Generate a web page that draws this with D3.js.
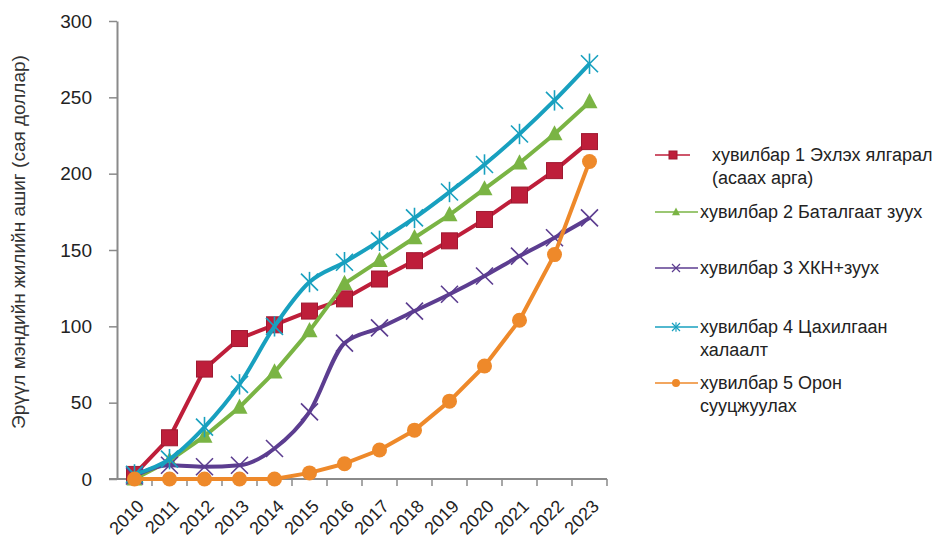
<!DOCTYPE html>
<html>
<head>
<meta charset="utf-8">
<script src="https://cdn.jsdelivr.net/npm/d3@7"></script>
<style>
  html, body { margin: 0; padding: 0; background: #fff; }
  svg { display: block; font-family: "Liberation Sans", Arial, sans-serif; }
</style>
</head>
<body>
<svg id="chart" width="943" height="538"></svg>
<script>
// Years on the horizontal axis
const years = ["2010","2011","2012","2013","2014","2015","2016","2017","2018","2019","2020","2021","2022","2023"];

// Annual health benefit per scenario (million USD)
const scenario1 = [3, 27, 72, 92, 101, 110, 118, 131, 143, 156, 170, 186, 202, 221];
const scenario2 = [0, 12, 28, 47, 70, 97, 128, 143, 158, 173, 190, 207, 226, 247];
const scenario3 = [2, 9, 8, 9, 20, 44, 89, 99, 110, 121, 133, 146, 158, 171];
const scenario4 = [3, 13, 34, 62, 100, 129, 142, 156, 171, 188, 206, 226, 248, 272];
const scenario5 = [0, 0, 0, 0, 0, 4, 10, 19, 32, 51, 74, 104, 147, 208];

const yTicks = [0, 50, 100, 150, 200, 250, 300];

const seriesNames = [
  ["хувилбар 1 Эхлэх ялгарал", "(асаах арга)"],
  ["хувилбар 2 Баталгаат зуух"],
  ["хувилбар 3 ХКН+зуух"],
  ["хувилбар 4 Цахилгаан", "халаалт"],
  ["хувилбар 5 Орон", "сууцжуулах"]
];
const yTitle = "Эрүүл мэндийн жилийн ашиг (сая доллар)";

const series = [
  { name: seriesNames[0], values: scenario1, color: "#BE1E3A", marker: "square", curve: d3.curveLinear },
  { name: seriesNames[1], values: scenario2, color: "#7AB444", marker: "triangle", curve: d3.curveLinear },
  { name: seriesNames[2], values: scenario3, color: "#5C3D90", marker: "cross", curve: d3.curveMonotoneX },
  { name: seriesNames[3], values: scenario4, color: "#18A0BF", marker: "star", curve: d3.curveMonotoneX },
  { name: seriesNames[4], values: scenario5, color: "#EE892A", marker: "circle", curve: d3.curveLinear }
];

const svg = d3.select("#chart");
const plot = { left: 117, right: 607, top: 21, bottom: 479 };

const x = d3.scaleBand().domain(years).range([plot.left, plot.right]).padding(0);
const y = d3.scaleLinear().domain([0, 300]).range([plot.bottom, plot.top]);
const cx = d => x(d) + x.bandwidth() / 2;

const axisColor = "#8a8a8a";

// Y axis
const yAxis = svg.append("g")
  .attr("transform", `translate(${plot.left},0)`)
  .call(d3.axisLeft(y).tickValues(yTicks).tickSize(8).tickSizeOuter(0).tickPadding(17));
yAxis.select(".domain").attr("stroke", axisColor).attr("stroke-width", 2);
yAxis.selectAll(".tick line").attr("stroke", axisColor).attr("stroke-width", 1.5);
yAxis.selectAll(".tick text").attr("font-size", 19).attr("fill", "#222")
  .attr("font-family", "Liberation Sans, Arial, sans-serif");

// X axis baseline with ticks at category boundaries
const xAxis = svg.append("g").attr("transform", `translate(0,${plot.bottom})`);
xAxis.append("line")
  .attr("x1", plot.left - 8).attr("x2", plot.right)
  .attr("stroke", axisColor).attr("stroke-width", 2);
const boundaries = years.map(d => x(d)).concat([plot.right]);
xAxis.selectAll("line.tk").data(boundaries.slice(1)).join("line")
  .attr("class", "tk")
  .attr("x1", d => d).attr("x2", d => d)
  .attr("y1", 0).attr("y2", 7)
  .attr("stroke", axisColor).attr("stroke-width", 1.5);
xAxis.selectAll("text").data(years).join("text")
  .attr("transform", d => `translate(${cx(d) + 6},${24}) rotate(-45)`)
  .attr("text-anchor", "end")
  .attr("dy", "0.35em")
  .attr("font-size", 18)
  .attr("fill", "#222")
  .text(d => d);

// Y axis title
svg.append("text")
  .attr("transform", `translate(25,242) rotate(-90)`)
  .attr("text-anchor", "middle")
  .attr("font-size", 19)
  .attr("fill", "#333")
  .text(yTitle);

// Marker drawing
function drawMarker(g, type, color, size, thin) {
  const s = size / 2;
  if (type === "square") {
    g.append("rect").attr("x", -s).attr("y", -s).attr("width", size).attr("height", size)
      .attr("fill", color).attr("stroke", d3.color(color).darker(0.5)).attr("stroke-width", 1);
  } else if (type === "triangle") {
    g.append("path").attr("d", `M0,${-s * 1.1}L${s},${s * 0.8}L${-s},${s * 0.8}Z`)
      .attr("fill", color);
  } else if (type === "circle") {
    g.append("circle").attr("r", s).attr("fill", color);
  } else if (type === "cross" || type === "star") {
    g.append("path").attr("d", `M${-s},${-s}L${s},${s}M${-s},${s}L${s},${-s}`)
      .attr("stroke", color).attr("stroke-width", thin).attr("fill", "none");
    if (type === "star") {
      g.append("path").attr("d", `M0,${-s * 1.2}L0,${s * 1.2}`)
        .attr("stroke", color).attr("stroke-width", thin).attr("fill", "none");
    }
  }
}

const markerSize = { square: 16, triangle: 16, cross: 17, star: 17, circle: 15 };

series.forEach(sr => {
  const line = d3.line()
    .x((v, i) => cx(years[i]))
    .y(v => y(v))
    .curve(sr.curve);
  const g = svg.append("g");
  g.append("path")
    .attr("d", line(sr.values))
    .attr("fill", "none")
    .attr("stroke", sr.color)
    .attr("stroke-width", 4)
    .attr("stroke-linejoin", "round");
  sr.values.forEach((v, i) => {
    const m = g.append("g").attr("transform", `translate(${cx(years[i])},${y(v)})`);
    drawMarker(m, sr.marker, sr.color, markerSize[sr.marker], 1.6);
  });
});

// Legend
const legendRows = [155, 212, 268, 327, 383];
const legend = svg.append("g");
series.forEach((sr, i) => {
  const ly = legendRows[i];
  const x1 = 655, x2 = i === 0 ? 690 : 698;
  const row = legend.append("g");
  row.append("line").attr("x1", x1).attr("x2", x2).attr("y1", ly).attr("y2", ly)
    .attr("stroke", sr.color).attr("stroke-width", 1.5);
  const m = row.append("g").attr("transform", `translate(${i === 0 ? 673 : 676},${ly})`);
  drawMarker(m, sr.marker, sr.color, 8, 1.2);
  const tx = i === 0 ? 712 : 700;
  sr.name.forEach((t, k) => {
    row.append("text")
      .attr("x", tx).attr("y", ly + k * 23)
      .attr("dy", "0.35em")
      .attr("font-size", 18)
      .attr("fill", "#222")
      .text(t);
  });
});
</script>
</body>
</html>
